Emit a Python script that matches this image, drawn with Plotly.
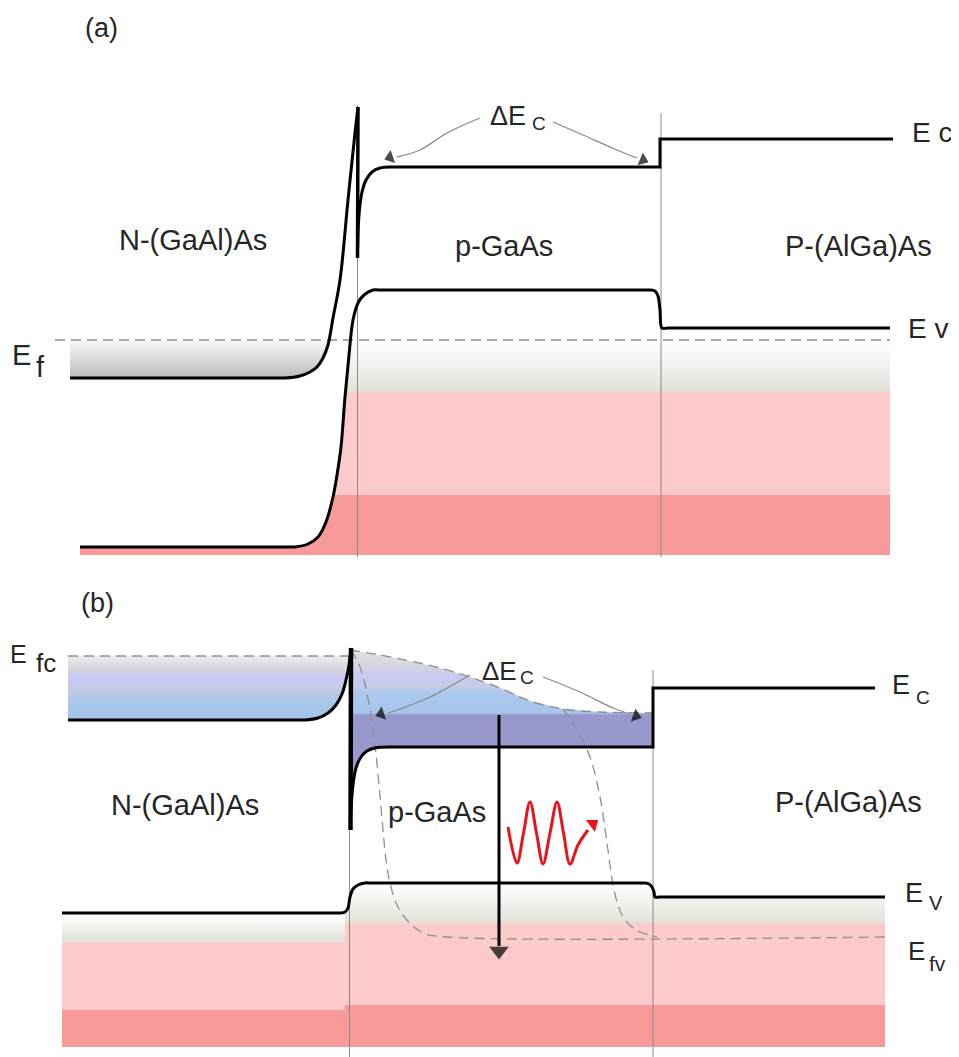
import plotly.graph_objects as go

W, H = 959, 1057
PAGE_MARGIN = 8  # default body margin of the page that holds the figure

# ---------------- panel (a): band-line control points ----------------
A_EC_N_X = [70, 278, 285, 300, 310, 317, 323, 328, 333, 340, 348, 355, 358]
A_EC_N_Y = [378, 378, 378, 376, 372, 367, 358, 345, 318, 280, 200, 133, 107]
A_SPIKE_X = [358, 358, 357.5]
A_SPIKE_Y = [107, 180, 258]
A_EC_P_X = [357.5, 359, 362, 366, 372, 380, 390]
A_EC_P_Y = [255, 215, 192, 180, 172, 168, 167]
A_EC_STEP_X = [390, 660, 660, 893]
A_EC_STEP_Y = [167, 167, 139, 139]
A_EV_X = [80, 288, 295, 308, 318, 326, 333, 337, 341, 345, 349, 353, 358, 364, 373, 380,
          644, 650, 655, 658, 660, 662, 668, 890]
A_EV_Y = [547, 547, 547, 544, 537, 522, 497, 475, 447, 397, 355, 320, 303, 295, 290, 290,
          290, 290, 291, 296, 310, 328, 328, 328]
A_EF_X = [55, 890]
A_EF_Y = [340, 340]
A_NFILL_X = [70, 278, 285, 300, 310, 317, 323, 327, 329]
A_NFILL_Y = [378, 378, 378, 376, 372, 367, 358, 347, 340]
A_BOTTOM_X = [80, 890]
A_BOTTOM_Y = [555, 555]
A_BOUND_X = [357.5, 661]
A_BOUND_Y0 = [105, 113]
A_BOUND_Y1 = [557, 557]
A_DEC_L_X = [480, 447, 420, 397]
A_DEC_L_Y = [118, 133, 150, 157]
A_DEC_R_X = [553, 583, 617, 637]
A_DEC_R_Y = [122, 135, 150, 158]

# ---------------- panel (b) ----------------
B_EC_N_X = [68, 298, 305, 318, 328, 336, 342, 346, 349, 351]
B_EC_N_Y = [720, 720, 720, 718, 713, 705, 694, 680, 665, 648]
B_SPIKE_X = [351, 350.5, 350.5]
B_SPIKE_Y = [648, 740, 830]
B_EC_P_X = [351, 353, 356, 361, 367, 375, 390]
B_EC_P_Y = [810, 785, 768, 757, 751, 748, 747]
B_EC_STEP_X = [390, 653, 653, 875]
B_EC_STEP_Y = [747, 747, 688, 688]
B_EV_X = [62, 334, 340, 345, 348, 350, 353, 358, 365, 372, 640, 645, 649, 652, 654, 655, 660, 885]
B_EV_Y = [913, 913, 913, 912, 908, 897, 889, 885, 883, 883, 883, 883, 884, 887, 892, 897, 897, 897]
B_EFC_X = [68, 351]
B_EFC_Y = [656, 656]
B_NFILL_X = [68, 298, 305, 318, 328, 336, 342, 346, 349, 350]
B_NFILL_Y = [720, 720, 720, 718, 713, 705, 694, 680, 665, 656]
B_EFC_P_X = [350, 380, 410, 440, 470, 500, 530, 563, 600, 653]
B_EFC_P_Y = [650, 655, 661, 668, 677, 688, 701, 709, 712, 713]
B_EFV_L_X = [351, 358, 364, 370, 375, 379, 383, 386, 390, 397, 407, 423, 447, 885]
B_EFV_L_Y = [650, 662, 680, 710, 745, 785, 830, 860, 883, 905, 920, 933, 937, 937]
B_EFV_R_X = [563, 577, 590, 600, 607, 613, 618, 623, 632, 640, 657]
B_EFV_R_Y = [709, 730, 757, 797, 843, 885, 905, 917, 927, 932, 937]
B_NBOT_X = [62, 349]
B_EVN_Y = [913, 913]
B_BOT_Y = [1047, 1047]
B_PBOT_X = [345, 885]
B_BOUND_X = [349.5, 653]
B_BOUND_Y0 = [648, 670]
B_BOUND_Y1 = [1057, 1057]
B_DEC_L_X = [470, 430, 400, 388]
B_DEC_L_Y = [675, 697, 709, 713]
B_DEC_R_X = [543, 580, 613, 630]
B_DEC_R_Y = [677, 692, 708, 714]
B_ARROW_X = [499, 499]
B_ARROW_Y = [715, 946]
PHOTON_X = [508, 517, 523.5, 530, 536.5, 543, 550, 557, 563.5, 570, 578, 588]
PHOTON_Y = [827, 863, 833, 802, 833, 864, 833, 802, 833, 864, 845, 830]

# arrow heads: (x, y, symbol, angle, size)
HEADS = [
    (390, 157.5, "triangle-left", -19, 12),
    (643, 160, "triangle-right", 22, 12),
    (381, 714, "triangle-left", -18, 12),
    (636, 716, "triangle-right", 19, 12),
    (499, 951, "triangle-down", 0, 17),
]
PHOTON_HEAD = (593, 824, "triangle-right", -37, 13)

PINK = "#fccaca"
SALMON = "#f99a9a"
FONT = "Liberation Sans, Arial, sans-serif"
TXT = "#262626"
DASH_C = "#8f8f8f"

fig = go.Figure()


def helper(x, y):
    fig.add_trace(go.Scatter(x=x, y=y, mode="lines", line=dict(width=0),
                             hoverinfo="skip"))


def grad_fill(x, y, start, stop, cs, shape="spline"):
    fig.add_trace(go.Scatter(x=x, y=y, mode="lines", fill="tonexty",
                             line=dict(width=0, shape=shape),
                             fillgradient=dict(type="vertical", start=start,
                                               stop=stop, colorscale=cs),
                             hoverinfo="skip"))


def line(x, y, width=3, color="black", shape="spline", dash=None):
    fig.add_trace(go.Scatter(x=x, y=y, mode="lines",
                             line=dict(width=width, color=color, shape=shape,
                                       dash=dash),
                             hoverinfo="skip"))


def band_cs(y0, y1, gray_start, pink_start, salmon_start):
    r = float(y1 - y0)
    g = (gray_start - y0) / r
    p = (pink_start - y0) / r
    s = (salmon_start - y0) / r
    return [[0, "#ffffff"], [g, "#ffffff"], [max(g, p - 0.01), "#e2e2da"],
            [p, PINK], [s, PINK], [s, SALMON], [1, SALMON]]

# ---------- fills (a) ----------
helper(A_BOTTOM_X, A_BOTTOM_Y)
grad_fill(A_EV_X, A_EV_Y, 290, 555, band_cs(290, 555, 342, 393, 495))

helper([A_NFILL_X[0], A_NFILL_X[-1]], [340, 340])
grad_fill(A_NFILL_X, A_NFILL_Y, 340, 378,
          [[0, "#f8f8f8"], [0.35, "#e6e6e6"], [0.8, "#c6c6c6"], [1, "#bcbcbc"]])

# ---------- fills (b) ----------
helper(B_NBOT_X, B_BOT_Y)
grad_fill(B_NBOT_X, B_EVN_Y, 913, 1047, band_cs(913, 1047, 915, 943, 1010), shape="linear")

pv = [(x, y) for x, y in zip(B_EV_X, B_EV_Y) if x >= B_PBOT_X[0]]
helper(B_PBOT_X, B_BOT_Y)
grad_fill([p[0] for p in pv], [p[1] for p in pv], 883, 1047, band_cs(883, 1047, 885, 924, 1005))

BLUE_CS = [[0, "#ececec"], [0.2, "#d6d6dc"], [0.33, "#c8c8f6"], [0.5, "#c6cce8"],
           [0.6, "#b8c8e4"], [0.72, "#a8c8ee"], [1, "#a6c4ea"]]
helper(B_EFC_X[:1] + [B_NFILL_X[-1]], B_EFC_Y)
grad_fill(B_NFILL_X, B_NFILL_Y, 656, 720, BLUE_CS)

r = 810 - 650.0
P_CS = [[0, "#e4e4e4"], [(665 - 650) / r, "#d6d6de"], [(676 - 650) / r, "#c8c8f6"],
        [(686 - 650) / r, "#c6cce6"], [(693 - 650) / r, "#acc8ee"], [(713 - 650) / r, "#a8c6ec"],
        [(715 - 650) / r, "#9898cc"], [1, "#9898cc"]]
helper(B_EFC_P_X, B_EFC_P_Y)
grad_fill(B_EC_P_X + [B_EC_STEP_X[1]], B_EC_P_Y + [B_EC_STEP_Y[1]], 650, 810, P_CS)

# ---------- thin boundary lines ----------
for xs, y0s, y1s in [(A_BOUND_X, A_BOUND_Y0, A_BOUND_Y1), (B_BOUND_X, B_BOUND_Y0, B_BOUND_Y1)]:
    for xv, y0, y1 in zip(xs, y0s, y1s):
        line([xv, xv], [y0, y1], width=1, color="#8a8a8a", shape="linear")

# ---------- dashed lines ----------
DASH = "10px,6px"
line(A_EF_X, A_EF_Y, 1.4, DASH_C, "linear", DASH)
line(B_EFC_X, B_EFC_Y, 1.4, DASH_C, "linear", DASH)
line(B_EFC_P_X, B_EFC_P_Y, 1.4, DASH_C, "spline", DASH)
line(B_EFV_L_X, B_EFV_L_Y, 1.3, DASH_C, "spline", DASH)
line(B_EFV_R_X, B_EFV_R_Y, 1.3, DASH_C, "spline", DASH)

# ---------- band lines ----------
line(A_EC_N_X, A_EC_N_Y, 3)
line(A_SPIKE_X, A_SPIKE_Y, 3.5, shape="linear")
line(A_EC_P_X, A_EC_P_Y, 3)
line(A_EC_STEP_X, A_EC_STEP_Y, 3, shape="linear")
line(A_EV_X, A_EV_Y, 3)

line(B_EC_N_X, B_EC_N_Y, 3)
line(B_SPIKE_X, B_SPIKE_Y, 4.5, shape="linear")
line(B_EC_P_X, B_EC_P_Y, 3)
line(B_EC_STEP_X, B_EC_STEP_Y, 3, shape="linear")
line(B_EV_X, B_EV_Y, 3)

# ---------- ΔEc arrows ----------
for xs, ys in [(A_DEC_L_X, A_DEC_L_Y), (A_DEC_R_X, A_DEC_R_Y),
               (B_DEC_L_X, B_DEC_L_Y), (B_DEC_R_X, B_DEC_R_Y)]:
    line(xs, ys, 1.3, "#8a8a8a")

# vertical transition arrow
line(B_ARROW_X, B_ARROW_Y, 3, "black", "linear")

# photon
line(PHOTON_X, PHOTON_Y, 3, "#e8141c")

hx, hy, hs, ha, hz = zip(*HEADS)
fig.add_trace(go.Scatter(x=list(hx), y=list(hy), mode="markers",
                         marker=dict(symbol=list(hs), angle=list(ha), size=list(hz),
                                     color="black", line=dict(width=0)),
                         hoverinfo="skip"))
fig.add_trace(go.Scatter(x=[PHOTON_HEAD[0]], y=[PHOTON_HEAD[1]], mode="markers",
                         marker=dict(symbol=PHOTON_HEAD[2], angle=PHOTON_HEAD[3],
                                     size=PHOTON_HEAD[4], color="#e8141c",
                                     line=dict(width=0)),
                         hoverinfo="skip"))

# ---------- labels: (text, x, y_center, size, xanchor) ----------
LABELS = [
    ("(a)", 101, 28, 27, "center"),
    ("N-(GaAl)As", 193, 240, 29, "center"),
    ("p-GaAs", 504, 246, 29, "center"),
    ("P-(AlGa)As", 858, 246, 29, "center"),
    ("ΔE", 488, 116, 27, "left"),
    ("C", 530, 123, 19, "left"),
    ("E c", 910, 132, 28, "left"),
    ("E v", 906, 328, 28, "left"),
    ("E", 10, 355, 29, "left"),
    ("f", 34, 367, 29, "left"),
    ("(b)", 97, 603, 27, "center"),
    ("E", 8, 654, 25, "left"),
    ("fc", 34, 663, 26, "left"),
    ("N-(GaAl)As", 185, 805, 29, "center"),
    ("p-GaAs", 437, 812, 29, "center"),
    ("P-(AlGa)As", 848, 802, 29, "center"),
    ("ΔE", 480, 671, 26, "left"),
    ("C", 518, 677, 19, "left"),
    ("E", 890, 685, 27, "left"),
    ("C", 914, 697, 19, "left"),
    ("E", 903, 893, 27, "left"),
    ("V", 927, 903, 20, "left"),
    ("E", 906, 951, 26, "left"),
    ("fv", 927, 963, 21, "left"),
]
for t, x, y, s, xa in LABELS:
    fig.add_annotation(x=x, y=y, text=t, showarrow=False, xanchor=xa, yanchor="middle",
                       font=dict(family=FONT, size=s, color=TXT))

# the page puts the figure PAGE_MARGIN px from its corner; make data units equal page pixels
fig.update_layout(
    width=W - PAGE_MARGIN, height=H - PAGE_MARGIN, margin=dict(l=0, r=0, t=0, b=0),
    paper_bgcolor="white", plot_bgcolor="white", showlegend=False,
    xaxis=dict(range=[PAGE_MARGIN, W], visible=False, fixedrange=True),
    yaxis=dict(range=[H, PAGE_MARGIN], visible=False, fixedrange=True),
)
fig.write_html("out.html", config={"displayModeBar": False})
